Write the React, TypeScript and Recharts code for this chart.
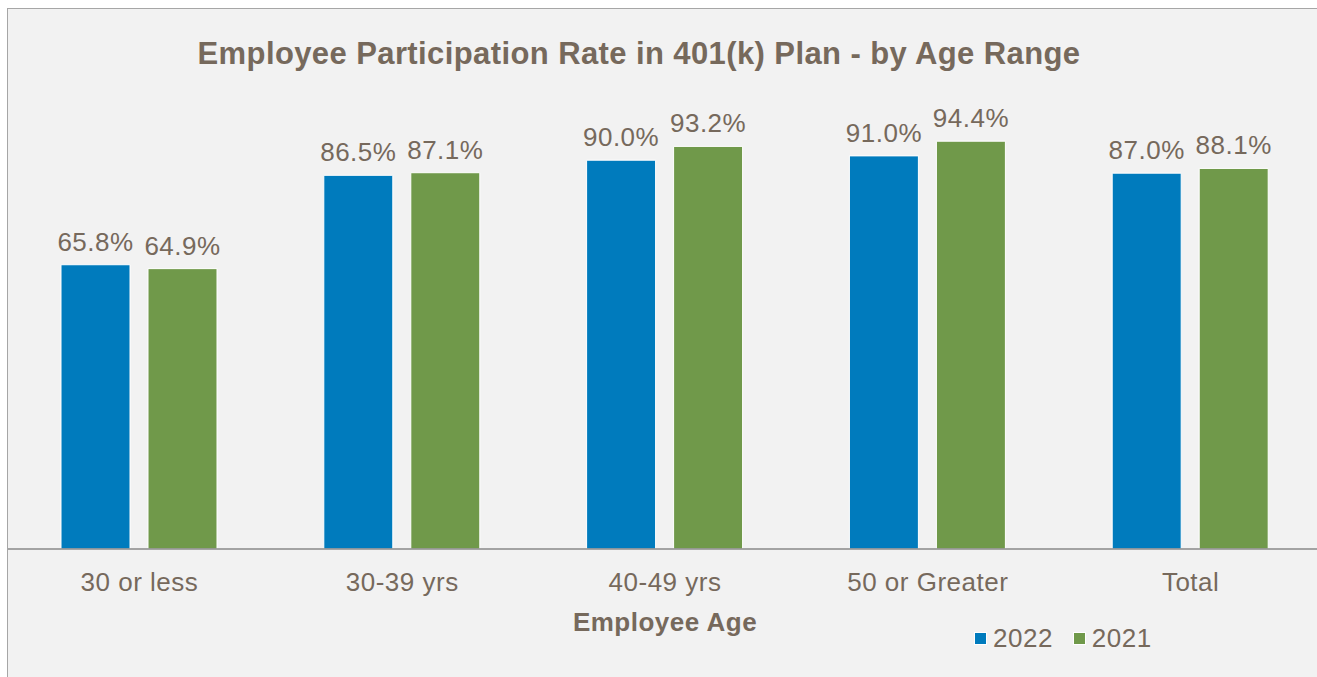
import { BarChart, Bar, XAxis, YAxis, Legend, LabelList } from "recharts";

const categories = ["30 or less", "30-39 yrs", "40-49 yrs", "50 or Greater", "Total"];
const rate2022 = [65.8, 86.5, 90.0, 91.0, 87.0];
const rate2021 = [64.9, 87.1, 93.2, 94.4, 88.1];

const data = categories.map((age, i) => ({ age, y2022: rate2022[i], y2021: rate2021[i] }));

const TEXT = "#76695c";
const BLUE = "#007bbd";
const GREEN = "#70994a";
const FONT = "'Liberation Sans', Arial, sans-serif";

// the chart panel runs off the right/bottom edge like the original screenshot, no scrollbars
if (typeof document !== "undefined") {
  document.documentElement.style.overflow = "hidden";
  document.body.style.overflow = "hidden";
}

const AgeTick = ({ x, y, payload }: any) => (
  <text x={x} y={y + 40} textAnchor="middle" fontSize={26} letterSpacing={0.5} fill={TEXT} fontFamily={FONT}>
    {payload.value}
  </text>
);

// keep 2022 before 2021 like the original
const renderLegend = ({ payload }: any) => {
  const items = [...(payload || [])].sort((a: any, b: any) => Number(b.value) - Number(a.value));
  return (
    <div style={{ display: "flex", alignItems: "center", fontFamily: FONT, fontSize: 26, letterSpacing: 0.5, color: TEXT, lineHeight: "30px" }}>
      {items.map((entry: any) => (
        <div key={entry.value} style={{ display: "flex", alignItems: "center", marginRight: 20 }}>
          <span style={{ width: 11, height: 11, background: entry.color, border: "1px solid #fff", marginRight: 6 }} />
          <span>{entry.value}</span>
        </div>
      ))}
    </div>
  );
};

const pct = (v: any) => `${Number(v).toFixed(1)}%`;

export default function App() {
  return (
    <div
      style={{
        position: "fixed",
        left: 7,
        top: 8,
        right: 0,
        bottom: 0,
        overflow: "hidden",
        background: "#f2f2f2",
        borderTop: "1px solid #a6a6a6",
        borderLeft: "1px solid #a6a6a6",
      }}
    >
      <div
        style={{
          position: "absolute",
          top: 27,
          left: 0,
          width: 1262,
          textAlign: "center",
          fontFamily: FONT,
          fontWeight: "bold",
          fontSize: 31,
          letterSpacing: 0.4,
          color: TEXT,
          zIndex: 1,
        }}
      >
        Employee Participation Rate in 401(k) Plan - by Age Range
      </div>
      <BarChart
        width={1314}
        height={700}
        data={data}
        barSize={69}
        barGap={18}
        margin={{ top: 108, right: 0, left: 0, bottom: 56 }}
      >
        <XAxis
          dataKey="age"
          axisLine={{ stroke: "#898989", strokeWidth: 1.5 }}
          tickLine={false}
          tickSize={0}
          tick={<AgeTick />}
          height={74}
          interval={0}
          label={{
            value: "Employee Age",
            position: "insideBottom",
            offset: -8,
            fill: TEXT,
            fontSize: 26,
            letterSpacing: 0.5,
            fontWeight: "bold",
            fontFamily: FONT,
          }}
        />
        <YAxis hide domain={[0, 100]} />
        <Legend
          verticalAlign="bottom"
          align="right"
          height={30}
          content={renderLegend}
          wrapperStyle={{ left: 966, width: 240 }}
        />
        <Bar dataKey="y2022" name="2022" fill={BLUE} stroke="#fff" strokeWidth={1} isAnimationActive={false}>
          <LabelList dataKey="y2022" position="top" offset={14} formatter={pct} fill={TEXT} fontSize={26} letterSpacing={0.5} fontFamily={FONT} />
        </Bar>
        <Bar dataKey="y2021" name="2021" fill={GREEN} stroke="#fff" strokeWidth={1} isAnimationActive={false}>
          <LabelList dataKey="y2021" position="top" offset={14} formatter={pct} fill={TEXT} fontSize={26} letterSpacing={0.5} fontFamily={FONT} />
        </Bar>
      </BarChart>
    </div>
  );
}
